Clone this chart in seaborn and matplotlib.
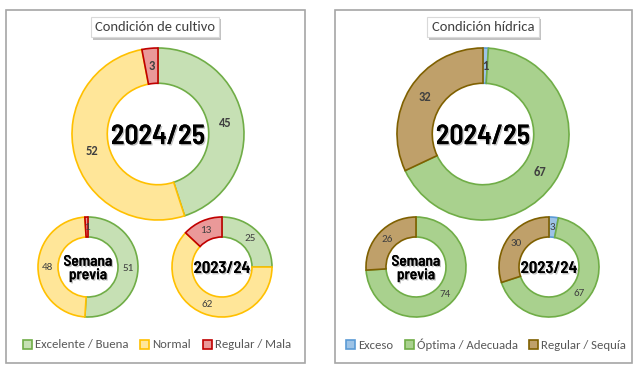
import matplotlib
matplotlib.use("Agg")
import matplotlib.pyplot as plt
import matplotlib.patheffects as pe
from matplotlib.patches import Patch, Rectangle
import numpy as np
import seaborn as sns

# ---------------- data ----------------
cultivo_labels = ["Excelente / Buena", "Normal", "Regular / Mala"]
cultivo_actual = [45, 52, 3]
cultivo_previa = [51, 48, 1]
cultivo_anterior = [25, 62, 13]

hidrica_labels = ["Exceso", "Óptima / Adecuada", "Regular / Sequía"]
hidrica_actual = [1, 67, 32]
hidrica_previa = [0, 74, 26]
hidrica_anterior = [3, 67, 30]

titles = ["Condición de cultivo", "Condición hídrica"]
center_texts = ["2024/25", "Semana\nprevia", "2023/24"]

# ---------------- style ----------------
sns.set_theme(style="white")
plt.rcParams["font.family"] = ["Carlito", "Lato", "DejaVu Sans"]

cult_fill = ["#C6E0B4", "#FFE699", "#EA9999"]
cult_edge = ["#70AD47", "#FFC000", "#C00000"]
hid_fill = ["#9DC3E6", "#A9D18E", "#BFA06A"]
hid_edge = ["#5B9BD5", "#70AD47", "#7F6000"]

W, H = 640, 371
fig = plt.figure(figsize=(W / 100, H / 100), dpi=100)
fig.patch.set_facecolor("white")

center_font = ["Barlow Semi Condensed", "DejaVu Sans"]


def px_axes(cx, cy, r):
    return fig.add_axes([(cx - r) / W, 1 - (cy + r) / H, 2 * r / W, 2 * r / H])


def donut(cx, cy, r, values, fills, edges, width, center, csize, lsize, lbold):
    ax = px_axes(cx, cy, r)
    vals = [v for v in values if v > 0]
    fc = [f for v, f in zip(values, fills) if v > 0]
    ec = [e for v, e in zip(values, edges) if v > 0]
    wedges, _ = ax.pie(vals, colors=fc, startangle=90, counterclock=False,
                       radius=1, wedgeprops=dict(width=width, linewidth=1.2))
    for w, e in zip(wedges, ec):
        w.set_edgecolor(e)
        w.set_clip_on(False)
    total = sum(vals)
    ang = 90.0
    rm = 1 - width / 2
    for v in vals:
        span = 360.0 * v / total
        mid = np.deg2rad(ang - span / 2)
        ax.text(rm * np.cos(mid), rm * np.sin(mid), str(v), ha="center", va="center",
                fontsize=lsize, color="#404040",
                fontweight="bold" if lbold else "normal")
        ang -= span
    ax.text(0, -0.03, center, ha="center", va="center", fontsize=csize,
            fontweight=600, family=center_font, color="black",
            linespacing=0.95,
            path_effects=[pe.withSimplePatchShadow(offset=(1, -1), shadow_rgbFace="#AAAAAA", alpha=0.7),
                          pe.Normal()])
    ax.set_xlim(-1, 1)
    ax.set_ylim(-1, 1)
    ax.set_aspect("equal")
    ax.axis("off")
    return ax


# panel frames (pixel-based overlay)
frame_ax = fig.add_axes([0, 0, 1, 1])
frame_ax.set_xlim(0, W)
frame_ax.set_ylim(H, 0)
frame_ax.axis("off")
for x0, x1 in [(6, 305), (335, 632)]:
    frame_ax.add_patch(Rectangle((x0, 10), x1 - x0, 353, fill=False,
                                 edgecolor="#A6A6A6", linewidth=1.2))

# titles with shadowed boxes
for tx, t in zip([155, 483], titles):
    txt = frame_ax.text(tx, 27, t, ha="center", va="center", fontsize=10.5,
                        color="#404040",
                        bbox=dict(boxstyle="square,pad=0.3", facecolor="white",
                                  edgecolor="#D9D9D9", linewidth=0.8))
    txt.get_bbox_patch().set_path_effects(
        [pe.SimplePatchShadow(offset=(1.5, -2), shadow_rgbFace="#9A9A9A", alpha=0.6), pe.Normal()])

# donuts - left
donut(158, 134, 86, cultivo_actual, cult_fill, cult_edge, 0.41, center_texts[0], 20, 9, True)
donut(88, 267, 50, cultivo_previa, cult_fill, cult_edge, 0.40, center_texts[1], 11, 8, False)
donut(222, 267, 50, cultivo_anterior, cult_fill, cult_edge, 0.40, center_texts[2], 12, 8, False)
# donuts - right
donut(483, 134, 86, hidrica_actual, hid_fill, hid_edge, 0.41, center_texts[0], 20, 9, True)
donut(416, 267, 50, hidrica_previa, hid_fill, hid_edge, 0.40, center_texts[1], 11, 8, False)
donut(549, 267, 50, hidrica_anterior, hid_fill, hid_edge, 0.40, center_texts[2], 12, 8, False)

# legends
for lx, labels, fills, edges in [(157, cultivo_labels, cult_fill, cult_edge),
                                  (486, hidrica_labels, hid_fill, hid_edge)]:
    handles = [Patch(facecolor=f, edgecolor=e, linewidth=1.2, label=l)
               for l, f, e in zip(labels, fills, edges)]
    fig.legend(handles=handles, loc="center", bbox_to_anchor=(lx / W, 1 - 345 / H),
               ncol=3, frameon=False, fontsize=9.2, handlelength=0.7,
               handleheight=0.7, handletextpad=0.25, columnspacing=0.9,
               labelcolor="#595959")

fig.savefig("out.png", dpi=100, facecolor="white")
